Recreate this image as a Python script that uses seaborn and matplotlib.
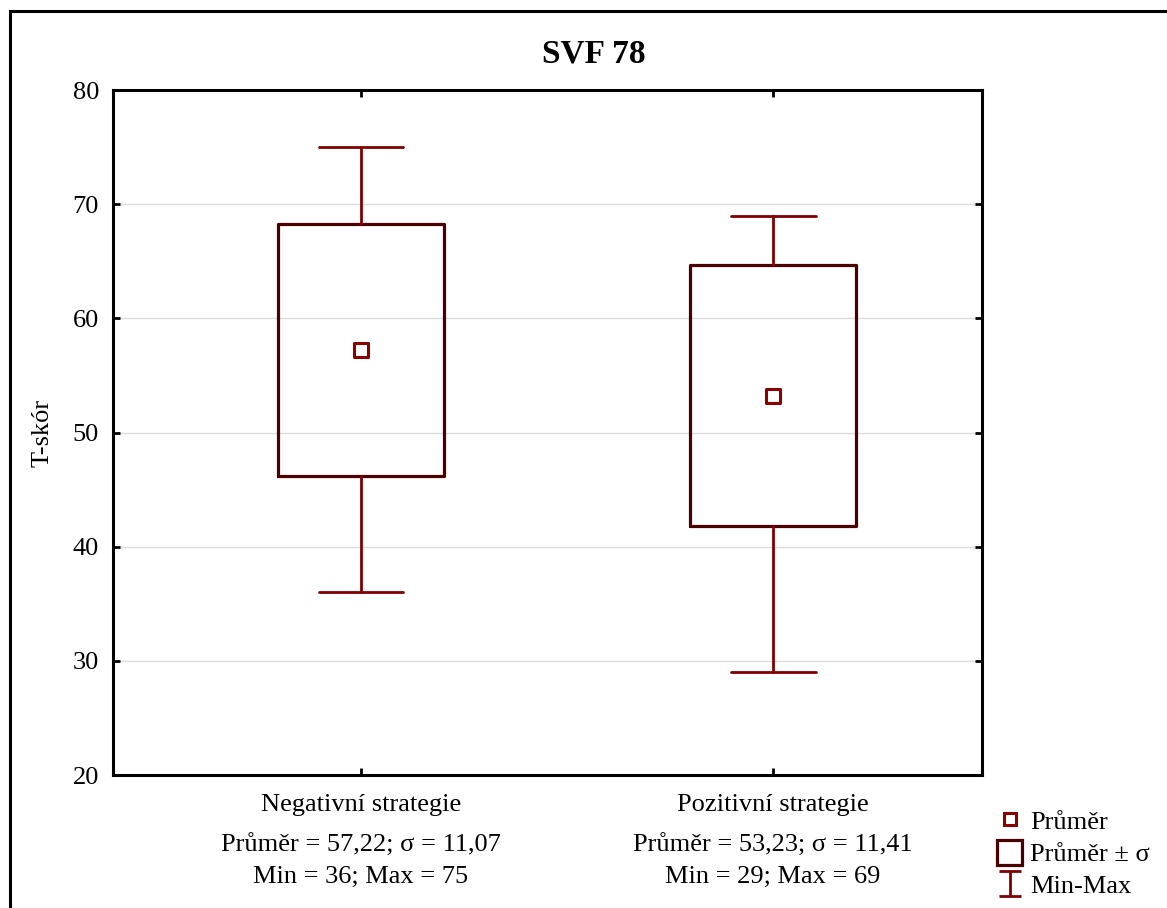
import matplotlib
matplotlib.use("Agg")
import matplotlib.pyplot as plt
import seaborn as sns
import pandas as pd
from matplotlib.lines import Line2D
from matplotlib.patches import Patch, Rectangle
from matplotlib.path import Path
import matplotlib.transforms as mtransforms

# ---- data ----
categories = ["Negativní strategie", "Pozitivní strategie"]
means = [57.22, 53.23]
sds = [11.07, 11.41]
mins = [36, 29]
maxs = [75, 69]
mean_labels = ["57,22", "53,23"]
sd_labels = ["11,07", "11,41"]
yticks = [20, 30, 40, 50, 60, 70, 80]
title = "SVF 78"
ylabel = "T-skór"

sns.set_theme(style="white")
plt.rcParams["font.family"] = ["Liberation Serif", "DejaVu Serif"]
plt.rcParams["text.color"] = "black"
plt.rcParams["axes.labelcolor"] = "black"
plt.rcParams["xtick.color"] = "black"
plt.rcParams["ytick.color"] = "black"

WHISK = "#800000"
BOXC = "#4a0000"
MEANC = "#8b0000"
FS = 19

fig = plt.figure(figsize=(11.67, 9.08), dpi=100)
ax = fig.add_axes([113/1167, 1-775/908, (982-113)/1167, (775-90)/908])

stats = []
for i, c in enumerate(categories):
    stats.append(dict(med=means[i], q1=means[i]-sds[i], q3=means[i]+sds[i],
                      whislo=mins[i], whishi=maxs[i], fliers=[], label=c))
ax.bxp(stats, positions=range(len(categories)), widths=0.403, capwidths=0.206,
       showfliers=False, patch_artist=False,
       boxprops=dict(color=BOXC, linewidth=2.3),
       whiskerprops=dict(color=WHISK, linewidth=2.0),
       capprops=dict(color=WHISK, linewidth=2.0),
       medianprops=dict(linewidth=0, alpha=0), zorder=3)

df = pd.DataFrame({"cat": list(range(len(categories))), "mean": means})
sns.scatterplot(data=df, x="cat", y="mean", marker="s", s=110, facecolor="white",
                edgecolor=MEANC, linewidth=2.2, ax=ax, zorder=4, legend=False)

ax.set_xlim(-0.602, 1.507)
ax.set_ylim(20, 80)
ax.set_yticks(yticks)
ax.set_xticks(range(len(categories)))
ax.set_xticklabels(categories)
ax.set_xlabel("")
ax.set_ylabel(ylabel, fontsize=FS, labelpad=14)
ax.grid(axis="y", color="#dcdcdc", linewidth=1.0)
ax.set_axisbelow(True)
for s in ax.spines.values():
    s.set_visible(True)
    s.set_color("black")
    s.set_linewidth(2.2)
ax.tick_params(axis="both", direction="in", length=5, width=2, color="black",
               labelsize=FS, top=True, right=True, bottom=True, left=True,
               labelcolor="black")
ax.tick_params(axis="y", pad=10)
ax.tick_params(axis="x", pad=14)

trans = mtransforms.blended_transform_factory(ax.transData, fig.transFigure)
for i in range(len(categories)):
    ax.text(i, 1-845/908, f"Průměr = {mean_labels[i]}; σ = {sd_labels[i]}",
            transform=trans, ha="center", va="center", fontsize=FS)
    ax.text(i, 1-877/908, f"Min = {mins[i]}; Max = {maxs[i]}",
            transform=trans, ha="center", va="center", fontsize=FS)

fig.text(594/1167, 1-54/908, title, ha="center", va="center", fontsize=24,
         fontweight="bold")

# figure border (left and top visible)
fig.add_artist(Rectangle((10/1167, -0.2), 1.5, 1.2 - 11/908, transform=fig.transFigure,
                         fill=False, edgecolor="black", linewidth=2.2))

ibeam = Path([(-0.9, -1), (0.9, -1), (0, -1), (0, 1), (-0.9, 1), (0.9, 1)],
             [Path.MOVETO, Path.LINETO, Path.MOVETO, Path.LINETO, Path.MOVETO, Path.LINETO])
handles = [
    Line2D([], [], marker="s", ls="none", mfc="white", mec=MEANC, mew=2.2, ms=8),
    Patch(facecolor="white", edgecolor=BOXC, linewidth=2.3),
    Line2D([], [], marker=ibeam, ls="none", mfc="none", mec=WHISK, mew=2.0, ms=18),
]
labels = ["Průměr", "Průměr ± σ", "Min-Max"]
leg = fig.legend(handles, labels, loc="upper left", bbox_to_anchor=(997/1167, 1-808/908),
                 frameon=False, fontsize=FS, handlelength=0.95, handleheight=1.05,
                 handletextpad=0.3, labelspacing=0.22, borderaxespad=0, borderpad=0)

fig.savefig("out.png", dpi=100)
